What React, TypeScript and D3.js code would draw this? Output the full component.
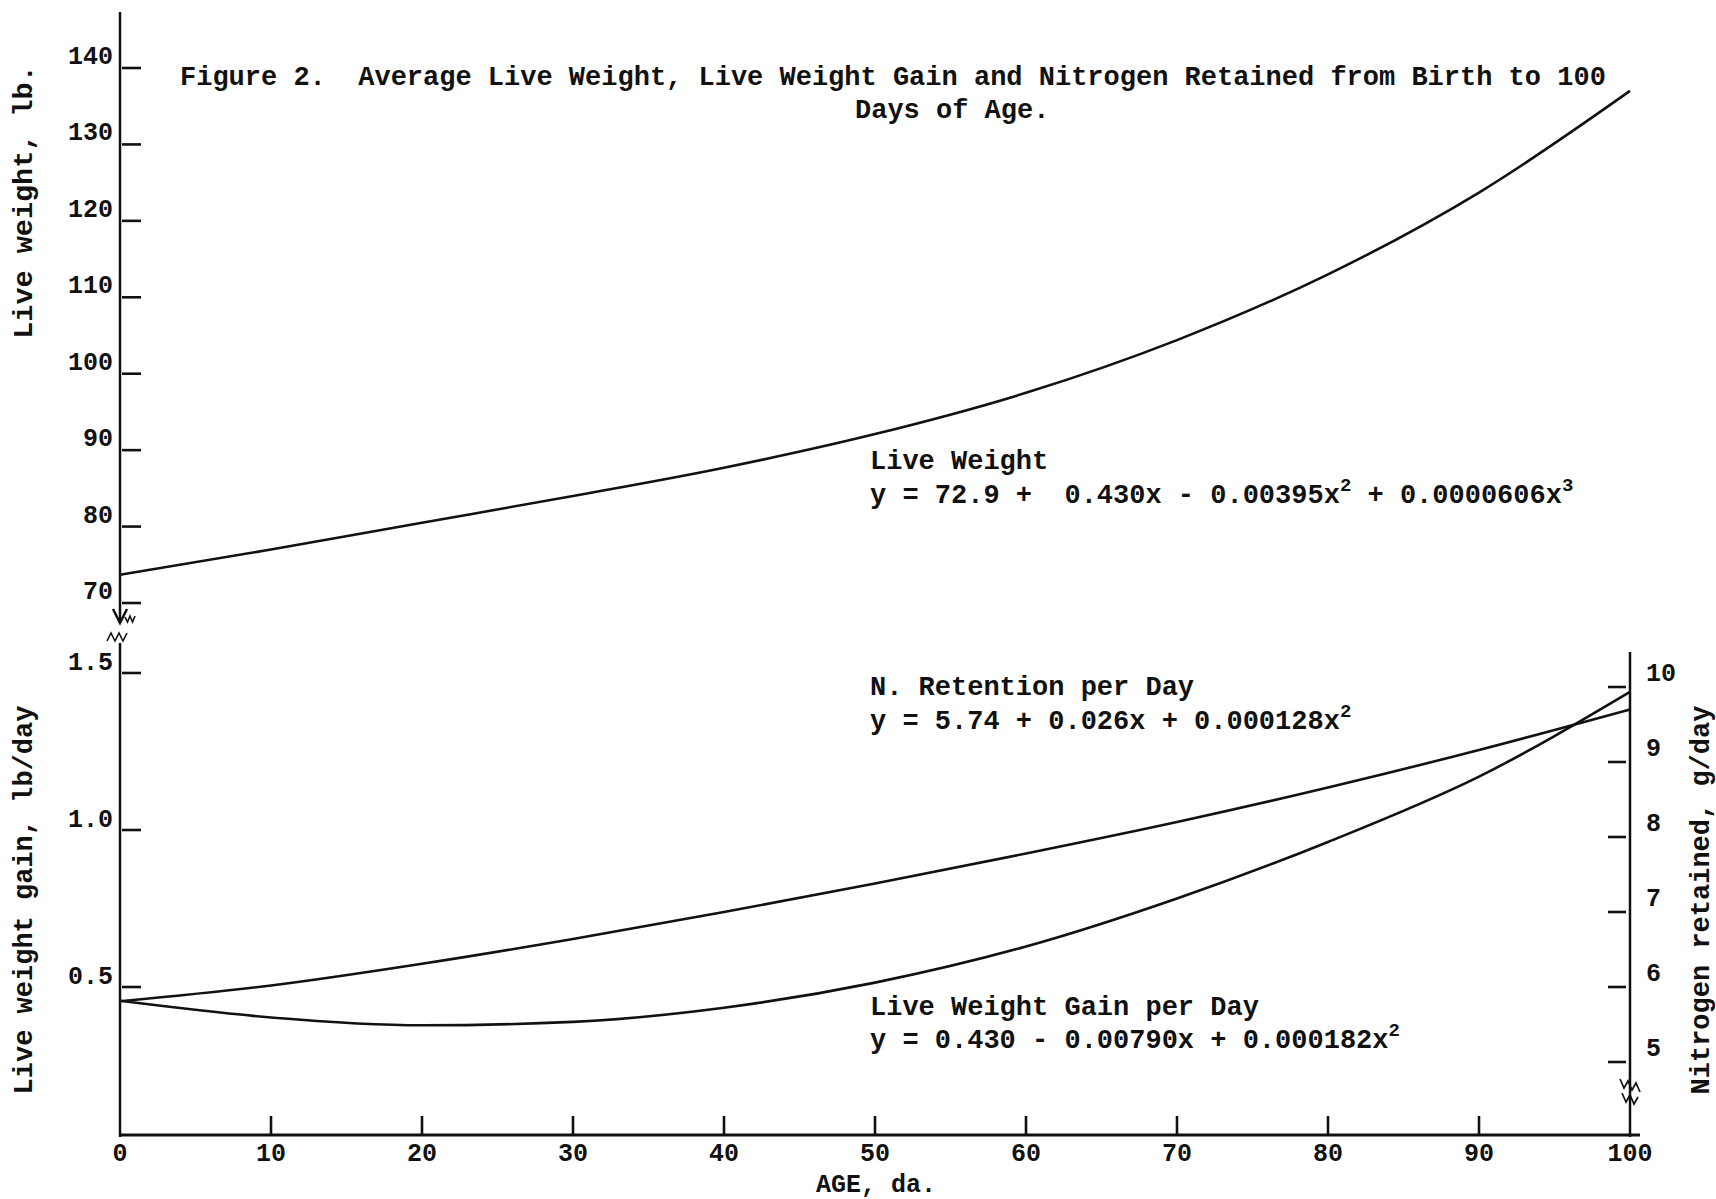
import React from 'react';
import * as d3 from 'd3';

// values (day 0..100)
const days = [0, 10, 20, 30, 40, 50, 60, 70, 80, 90, 100];
const liveWeight = [73.7, 77.0, 80.5, 84.0, 87.7, 92.1, 97.5, 104.4, 113.0, 123.7, 137.0];
const gainPerDay = [0.456, 0.403, 0.378, 0.389, 0.434, 0.514, 0.629, 0.782, 0.962, 1.17, 1.44];
const nRetained = [5.81, 6.02, 6.31, 6.64, 7.0, 7.38, 7.78, 8.2, 8.66, 9.16, 9.7];

const weightTicks = [70, 80, 90, 100, 110, 120, 130, 140];
const gainTicks = [0.5, 1.0, 1.5];
const nTicks = [5, 6, 7, 8, 9, 10];
const dayTicks = [0, 10, 20, 30, 40, 50, 60, 70, 80, 90, 100];

const W = 1716;
const H = 1199;
const axisX = 120;
const rightX = 1630;
const baseY = 1135;
const ink = '#111';
const font = '"Liberation Mono", "DejaVu Sans Mono", monospace';
const sp = '\u00A0';

const x = d3.scaleLinear([0, 100], [axisX, rightX]);
const yW = d3.scaleLinear([70, 140], [603, 68]);
const yG = d3.scaleLinear([0, 1.5], [1144, 673]);
const yN = d3.scaleLinear([5, 10], [1062, 687]);

const lineOf = (vals: number[], y: d3.ScaleLinear<number, number>) =>
  d3.line<number>()
    .x((d, i) => x(days[i]))
    .y(d => y(d))
    .curve(d3.curveMonotoneX)(vals) || '';

const Sup = ({ t, rest }: { t: string; rest?: string }) => (
  <>
    <tspan dy={-12} fontSize={19}>{t}</tspan>
    {rest !== undefined && <tspan dy={12} fontSize={27}>{rest}</tspan>}
  </>
);

const App = () => {
  const txt = { fontFamily: font, fill: ink, fontWeight: 700 };
  return (
    <svg width={W} height={H} style={{ position: 'absolute', left: 0, top: 0, background: '#fff' }}>
      <rect width={W} height={H} fill="#fff" />

      {/* axes */}
      <g stroke={ink} fill="none" strokeWidth={2.5}>
        <line x1={axisX} y1={12} x2={axisX} y2={622} />
        <path d={`M${axisX - 7},609 L${axisX},623 L${axisX + 7},609`} />
        <path d={`M${axisX + 5},617 l2.5,5 l2.5,-6 l2.5,6 l2.5,-6`} strokeWidth={1.6} />
        <path d={`M${axisX - 13},641 l4,-8 l4,8 l4,-8 l4,8 l4,-8`} strokeWidth={1.6} />
        <line x1={axisX} y1={643} x2={axisX} y2={baseY + 2} />
        <line x1={axisX} y1={baseY} x2={rightX + 10} y2={baseY} strokeWidth={3.2} />
        <line x1={rightX} y1={652} x2={rightX} y2={baseY + 2} />
        <path d={`M${rightX - 10},1079 l4,9 l4,-7 l4,9 l4,-7 l4,9`} strokeWidth={1.7} />
        <path d={`M${rightX - 8},1093 l4,9 l4,-7 l4,9 l4,-7`} strokeWidth={1.7} />
      </g>

      {/* ticks */}
      <g stroke={ink} strokeWidth={2.6}>
        {weightTicks.map(t => <line key={'w' + t} x1={axisX + 2} x2={axisX + 21} y1={yW(t)} y2={yW(t)} />)}
        {gainTicks.map(t => <line key={'g' + t} x1={axisX + 2} x2={axisX + 21} y1={yG(t)} y2={yG(t)} />)}
        {nTicks.map(t => <line key={'n' + t} x1={rightX - 22} x2={rightX - 4} y1={yN(t)} y2={yN(t)} />)}
        {dayTicks.slice(1, -1).map(t => <line key={'d' + t} x1={x(t)} x2={x(t)} y1={baseY} y2={baseY - 19} />)}
      </g>

      {/* tick labels */}
      <g {...txt} fontSize={25}>
        {weightTicks.map(t => <text key={'wl' + t} x={axisX - 7} y={yW(t) - 4} textAnchor="end">{t}</text>)}
        {gainTicks.map(t => <text key={'gl' + t} x={axisX - 7} y={yG(t) - 3} textAnchor="end">{t.toFixed(1)}</text>)}
        {nTicks.map(t => <text key={'nl' + t} x={rightX + 16} y={yN(t) - 6}>{t}</text>)}
        {dayTicks.map(t => <text key={'dl' + t} x={x(t)} y={1161} textAnchor="middle">{t}</text>)}
      </g>

      {/* axis titles */}
      <g {...txt} textAnchor="middle">
        <text transform="translate(32,202) rotate(-90)" fontSize={28.5}>Live weight, lb.</text>
        <text transform="translate(32,900) rotate(-90)" fontSize={27}>Live weight gain, lb/day</text>
        <text transform="translate(1709,900) rotate(-90)" fontSize={27}>Nitrogen retained, g/day</text>
        <text x={876} y={1192} fontSize={25}>AGE, da.</text>
      </g>

      {/* title */}
      <g {...txt} fontSize={27}>
        <text x={180} y={85}>{`Figure 2.${sp}${sp}Average Live Weight, Live Weight Gain and Nitrogen Retained from Birth to 100`}</text>
        <text x={855} y={118}>Days of Age.</text>
      </g>

      {/* curves */}
      <g fill="none" stroke={ink} strokeWidth={2.6}>
        <path d={lineOf(liveWeight, yW)} />
        <path d={lineOf(gainPerDay, yG)} />
        <path d={lineOf(nRetained, yN)} />
      </g>

      {/* curve annotations */}
      <g {...txt} fontSize={27}>
        <text x={870} y={469}>Live Weight</text>
        <text x={870} y={503}>
          {`y = 72.9 +${sp}${sp}0.430x - 0.00395x`}
          <Sup t="2" rest={`${sp}+ 0.0000606x`} />
          <Sup t="3" />
        </text>
        <text x={870} y={695}>N. Retention per Day</text>
        <text x={870} y={729}>
          {'y = 5.74 + 0.026x + 0.000128x'}
          <Sup t="2" />
        </text>
        <text x={870} y={1015}>Live Weight Gain per Day</text>
        <text x={870} y={1048}>
          {'y = 0.430 - 0.00790x + 0.000182x'}
          <Sup t="2" />
        </text>
      </g>
    </svg>
  );
};

export default App;
